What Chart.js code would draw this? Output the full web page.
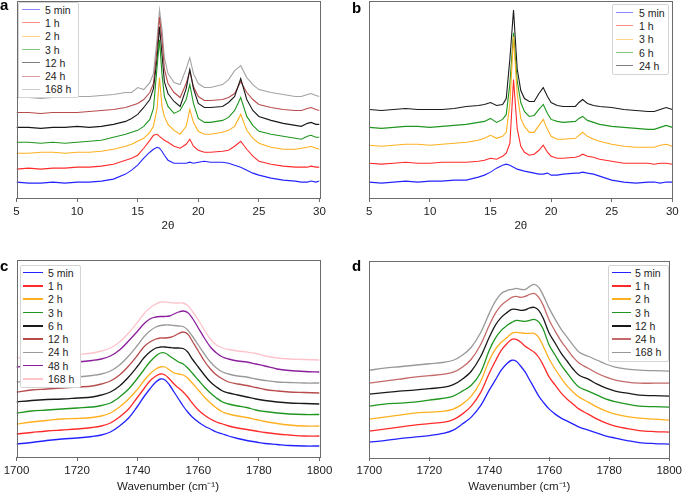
<!DOCTYPE html>
<html>
<head>
<meta charset="utf-8">
<script src="https://cdn.jsdelivr.net/npm/chart.js@4.4.0/dist/chart.umd.min.js"></script>
<style>
  html, body { margin: 0; padding: 0; background: #fff; }
  body { width: 685px; height: 494px; position: relative; overflow: hidden; font-family: 'Liberation Sans', Arial, sans-serif; }
  canvas { position: absolute; }
  .tag { position: absolute; font: bold 15px 'Liberation Sans', Arial, sans-serif; line-height: 1; color: #000; }
  .legend { position: absolute; background: #fff; border: 1px solid #d4d4d4; border-radius: 2px; box-sizing: border-box; }
  .legend-item { display: flex; align-items: center; height: 13.3px; font-size: 10.5px; color: #222; white-space: nowrap; }
  .legend-line { display: inline-block; flex: none; }
  #legA { left: 18px; top: 2px; width: 61px; height: 96px; padding-top: 0; }
  #legB { left: 612px; top: 4px; width: 57px; height: 71px; padding-top: 1px; }
  #legC { left: 20px; top: 265px; width: 61px; height: 123px; padding-top: 0; }
  #legD { left: 608px; top: 265px; width: 61px; height: 97px; padding-top: 0; }
</style>
</head>
<body>
<canvas id="chartA" width="340" height="240" style="left:0;top:0"></canvas>
<canvas id="chartB" width="345" height="240" style="left:340px;top:0"></canvas>
<canvas id="chartC" width="340" height="244" style="left:0;top:250px"></canvas>
<canvas id="chartD" width="345" height="244" style="left:340px;top:250px"></canvas>
<div class="tag" style="left:0;top:-3px">a</div>
<div class="tag" style="left:352px;top:0">b</div>
<div class="tag" style="left:0;top:258px">c</div>
<div class="tag" style="left:352px;top:258px">d</div>
<div class="legend" id="legA"></div>
<div class="legend" id="legB"></div>
<div class="legend" id="legC"></div>
<div class="legend" id="legD"></div>
<script>
// ---- panel a : XRD (2θ) ----
const thetaA = [5, 6, 7, 8, 9, 10, 11, 12, 13, 14, 14.5, 15, 15.5, 16, 16.3, 16.6, 16.8, 17, 17.2, 17.5, 18, 18.5, 19, 19.3, 19.6, 20, 20.5, 21, 22, 22.5, 23, 23.5, 24, 24.5, 25, 26, 27, 28, 28.5, 29, 29.3, 29.7, 30];
const a5min = [16, 15, 15, 16, 15, 16, 16, 17, 19, 24, 28, 33, 40, 46, 49, 51, 50, 47, 43, 38, 35, 35, 35, 36, 35, 36, 37, 36, 36, 35, 33, 31, 28, 25, 23, 20, 18, 17, 16, 16, 17, 16, 17];
const a1h = [29, 30, 29, 30, 30, 31, 31, 32, 34, 38, 40, 43, 50, 58, 63, 64, 62, 60, 58, 56, 52, 50, 54, 59, 52, 48, 46, 46, 47, 48, 52, 57, 49, 42, 37, 34, 32, 31, 31, 31, 32, 31, 31];
const a2h = [45, 45, 46, 46, 45, 46, 46, 47, 49, 52, 54, 57, 60, 66, 72, 90, 121, 92, 82, 74, 68, 64, 72, 89, 76, 67, 64, 64, 66, 68, 72, 84, 68, 60, 55, 51, 49, 49, 50, 51, 52, 50, 49];
const a3h = [56, 56, 55, 56, 55, 56, 57, 58, 61, 64, 66, 68, 72, 79, 90, 132, 159, 125, 102, 92, 85, 88, 99, 114, 95, 80, 76, 76, 78, 81, 88, 101, 82, 73, 67, 64, 62, 60, 59, 62, 63, 61, 61];
const a12h = [71, 71, 70, 71, 71, 72, 71, 72, 74, 77, 80, 84, 91, 99, 110, 140, 172, 145, 117, 105, 97, 92, 110, 129, 110, 95, 91, 91, 92, 96, 102, 120, 99, 88, 82, 78, 75, 73, 72, 75, 76, 74, 74];
const a24h = [86, 86, 85, 86, 86, 86, 87, 88, 89, 91, 93, 95, 99, 106, 115, 150, 182, 160, 130, 115, 106, 101, 115, 128, 112, 102, 98, 98, 99, 101, 105, 117, 106, 99, 94, 91, 89, 88, 88, 90, 91, 89, 88];
const a168h = [101, 101, 100, 101, 101, 102, 102, 103, 104, 106, 106, 111, 109, 116, 125, 160, 189, 170, 141, 125, 116, 114, 130, 141, 125, 115, 111, 111, 114, 119, 128, 133, 121, 114, 109, 106, 104, 102, 102, 104, 105, 103, 102];
const labelsA = ['5 min', '1 h', '2 h', '3 h', '12 h', '24 h', '168 h'];

// ---- panel b : XRD (2θ) ----
const thetaB = [5, 6, 7, 8, 9, 10, 11, 12, 13, 14, 14.5, 15, 15.5, 16, 16.3, 16.6, 16.9, 17.2, 17.5, 17.8, 18.2, 18.6, 19, 19.35, 19.7, 20, 20.5, 21, 22, 22.3, 22.6, 23, 23.5, 24, 25, 26, 27, 28, 28.5, 29, 29.5, 30];
const b5min = [16, 15, 16, 17, 16, 17, 17, 18, 18, 21, 23, 26, 30, 33, 34, 33, 31, 29, 28, 27, 26, 25, 24, 24, 25, 23, 23, 24, 25, 25, 26, 25, 24, 22, 18, 16, 15, 16, 16, 15, 16, 16];
const b1h = [35, 34, 35, 36, 35, 35, 36, 36, 36, 37, 38, 40, 39, 42, 45, 55, 119, 70, 52, 46, 43, 44, 48, 53, 46, 42, 40, 40, 41, 42, 44, 42, 41, 39, 37, 35, 35, 35, 34, 35, 35, 34];
const b3h = [53, 52, 53, 54, 54, 53, 54, 55, 56, 58, 60, 63, 60, 62, 66, 95, 162, 105, 80, 72, 66, 66, 73, 79, 69, 62, 59, 59, 60, 63, 66, 62, 59, 57, 54, 52, 51, 51, 51, 53, 54, 52];
const b6h = [71, 70, 71, 72, 72, 71, 72, 73, 74, 76, 77, 80, 76, 79, 84, 115, 166, 118, 96, 87, 82, 83, 89, 94, 85, 79, 77, 76, 77, 80, 82, 78, 76, 74, 72, 71, 70, 69, 69, 71, 73, 71];
const b24h = [89, 88, 89, 90, 89, 89, 89, 90, 92, 93, 94, 96, 93, 94, 100, 140, 189, 130, 108, 100, 97, 97, 105, 111, 102, 96, 93, 92, 92, 96, 99, 95, 93, 92, 91, 89, 88, 87, 87, 89, 91, 89];
const labelsB = ['5 min', '1 h', '3 h', '6 h', '24 h'];

// ---- panel c : IR, wavenumber ----
const waveC = [1700, 1705, 1710, 1715, 1720, 1725, 1728, 1731, 1734, 1737, 1740, 1742, 1744, 1746, 1747.5, 1749, 1750.5, 1752, 1753.5, 1755, 1756.5, 1758, 1760, 1762, 1764, 1766, 1768, 1770, 1773, 1776, 1779, 1782, 1786, 1790, 1795, 1800];
const c5min = [13, 14.5, 16.5, 18, 19, 20.5, 22, 25, 31, 39, 51, 60, 68, 75, 78, 77, 72, 65, 58, 51, 45, 40, 35, 31, 28, 25, 23, 21, 18.5, 16.5, 15, 13.5, 12.5, 11.5, 11, 11];
const c1h = [23, 24.5, 26, 27, 28, 29.5, 31, 34, 40, 48, 60, 68, 76, 81, 83, 82, 78, 73, 69, 65, 60, 54, 47, 42, 38, 35, 33, 31, 29, 27.5, 26, 24.5, 23, 22, 21, 21];
const c2h = [33, 35, 36.5, 38, 38.5, 39.5, 41, 44, 50, 58, 68, 76, 83, 88, 90, 90, 87, 84, 83, 82, 79, 74, 67, 60, 54, 49, 45, 43, 41, 39.5, 37.5, 35.5, 33.5, 32, 31, 31];
const c3h = [44, 46, 47, 48, 49, 50, 51.5, 54, 60, 68, 79, 87, 95, 101, 104, 104, 101, 98, 95, 93, 89, 84, 77, 70, 64, 59, 55, 53, 51, 49.5, 47, 45.5, 44, 43, 42.5, 42.5];
const c6h = [55, 56.5, 57.5, 58, 59, 60, 62, 65, 71, 80, 91, 99, 105, 109, 110, 110, 109.5, 109, 109, 108.5, 105, 98, 90, 82, 75, 70, 66, 64, 62, 60, 58, 56.5, 55, 54, 53.5, 53];
const c12h = [65, 67, 68, 69, 70, 71, 73, 76, 82, 91, 102, 110, 115, 118, 119, 119, 119.5, 121, 123.5, 125, 123, 116, 106, 96, 88, 82, 78, 75, 73, 71.5, 69.5, 67.5, 66, 65, 64.5, 64];
const c24h = [75, 77, 78, 79, 80, 81.5, 83, 86, 92, 101, 112, 120, 126, 130, 131.5, 132, 132, 131.5, 131, 130.5, 127, 121, 112, 103, 95, 89, 85, 83, 81, 80, 78, 76.5, 75, 74.5, 74, 74];
const c48h = [90, 92, 93, 94, 95, 96.5, 98, 101, 107, 116, 126, 133, 138, 140, 140.5, 140.5, 141, 143, 145, 146, 144.5, 139, 129, 119, 110, 104, 100, 98, 96, 95, 93, 91, 88, 86.5, 85.5, 85];
const c168h = [99, 100, 100.5, 101, 102.5, 104, 106, 109, 115, 124, 135, 143, 149, 153, 155, 155, 154.5, 154, 154, 154, 151.5, 146, 137, 127, 118, 112, 109, 107.5, 106, 105, 103.5, 101, 99, 98, 97.5, 97];
const labelsC = ['5 min', '1 h', '2 h', '3 h', '6 h', '12 h', '24 h', '48 h', '168 h'];

// ---- panel d : IR, wavenumber ----
const waveD = [1700, 1705, 1710, 1715, 1720, 1725, 1728, 1731, 1734, 1737, 1740, 1742, 1744, 1746, 1747.5, 1749, 1750.5, 1752, 1753.5, 1755, 1756.5, 1758, 1760, 1762, 1764, 1766, 1768, 1770, 1773, 1776, 1779, 1782, 1786, 1790, 1795, 1800];
const d5min = [15, 16.5, 18.5, 20, 21.5, 24, 27, 33, 40, 51, 67, 77, 87, 94, 97, 96, 91, 85, 77, 69, 61, 55, 48, 43, 39, 36, 33, 30, 27, 24, 21, 19, 16.5, 14.5, 13.5, 13];
const d1h = [26, 28, 30, 32, 33.5, 35, 37.5, 43, 51, 64, 84, 96, 107, 114, 118, 118, 115, 111, 108, 105, 100, 92, 80, 72, 64, 58, 53, 48, 43, 38, 34, 31, 28.5, 26.5, 25.5, 25];
const d2h = [38, 40, 42, 44, 45, 46, 48, 53, 61, 75, 97, 108, 115, 120, 124, 125, 124.5, 124, 124, 124, 120, 111, 98, 88, 79, 71, 65, 60, 55, 50, 46, 43, 40.5, 39, 38, 37];
const d3h = [51, 53, 54, 55, 57, 59, 61, 66, 72, 84, 107, 119, 127, 132, 135, 137, 136.5, 136, 137, 138, 135.5, 128, 112, 102, 92, 84, 76, 70, 66, 62, 58, 55.5, 53, 51, 50.5, 50];
const d12h = [63, 64.5, 66, 67, 68.5, 70, 72.5, 78, 86, 100, 120, 132, 140, 145, 148, 148, 147, 147.5, 149.5, 150, 147, 139, 124, 114, 104, 96, 88, 82, 78, 73, 69, 66, 64, 62, 61.5, 61];
const d24h = [74, 76, 78, 80, 81.5, 83, 85, 90, 98, 112, 132, 144, 152, 157, 160, 161, 160, 161, 163, 164, 160, 152, 137, 126, 116, 108, 100, 94, 89, 84, 80, 77, 75, 74, 74, 74];
const d168h = [87, 89, 90.5, 92, 93.5, 95, 97, 102, 110, 124, 144, 156, 164, 167, 168, 169, 168, 168, 171, 173, 170, 162, 149, 138, 128, 120, 112, 105, 101, 97, 93, 90, 88, 87, 86.5, 86];
const labelsD = ['5 min', '1 h', '2 h', '3 h', '12 h', '24 h', '168 h'];

// цвета линий
const COLORS = {
  blue: '#2323ff',
  red: '#ff2b2b',
  orange: '#ffb020',
  green: '#1f961f',
  black: '#1a1a1a',
  darkred: '#b84c4c',
  gray: '#a3a3a3',
  purple: '#8b1e9c',
  pink: '#ffc3cc',
  frame: '#6b6b6b',
};
const FONT = "'Liberation Sans', Arial, sans-serif";

// рамка вокруг области графика
const framePlugin = {
  id: 'frame',
  afterDraw(chart) {
    const { ctx, chartArea: a } = chart;
    ctx.save();
    ctx.strokeStyle = COLORS.frame;
    ctx.lineWidth = 1;
    ctx.strokeRect(Math.round(a.left) + 0.5, Math.round(a.top) + 0.5,
      Math.round(a.right - a.left), Math.round(a.bottom - a.top));
    ctx.restore();
  }
};

function makePanel(id, xs, series, colors, opt) {
  const datasets = series.map((ys, i) => ({
    data: xs.map((x, j) => ({ x, y: ys[j] })),
    borderColor: colors[i],
    borderWidth: opt.lineWidth,
    tension: opt.smooth ? 0.35 : 0,
    pointRadius: 0,
    fill: false,
  }));
  return new Chart(document.getElementById(id), {
    type: 'line',
    data: { datasets },
    plugins: [framePlugin],
    options: {
      responsive: false,
      animation: false,
      events: [],
      layout: { padding: opt.padding },
      plugins: { legend: { display: false }, tooltip: { enabled: false } },
      scales: {
        x: {
          type: 'linear',
          min: opt.xMin,
          max: opt.xMax,
          afterFit: (s) => { s.height = opt.axisHeight; },
          border: { display: false },
          grid: { drawOnChartArea: false, drawTicks: true, tickLength: 4, color: COLORS.frame },
          ticks: {
            stepSize: opt.step, color: '#222', padding: 3, maxRotation: 0, autoSkip: false,
            font: { family: FONT, size: 11.5 },
            callback: (v) => String(v),
          },
          title: {
            display: true, text: opt.title, color: '#222',
            font: { family: FONT, size: 11.5 },
            padding: { top: 0, bottom: opt.titlePad },
          },
        },
        y: { display: false, min: 0, max: opt.yMax },
      },
    },
  });
}

function buildLegend(id, labels, colors, line) {
  const box = document.getElementById(id);
  labels.forEach((label, i) => {
    const row = document.createElement('div');
    row.className = 'legend-item';
    const ln = document.createElement('span');
    ln.className = 'legend-line';
    ln.style.cssText = `width:${line.len}px;height:${line.w}px;background:${colors[i]};opacity:${line.op};margin-left:${line.ml}px;margin-right:${line.mr}px`;
    const txt = document.createElement('span');
    txt.textContent = label;
    row.appendChild(ln);
    row.appendChild(txt);
    box.appendChild(row);
  });
}

const colorsA = [COLORS.blue, COLORS.red, COLORS.orange, COLORS.green, COLORS.black, COLORS.darkred, COLORS.gray];
const colorsB = [COLORS.blue, COLORS.red, COLORS.orange, COLORS.green, COLORS.black];
const colorsC = [COLORS.blue, COLORS.red, COLORS.orange, COLORS.green, COLORS.black, COLORS.darkred, '#9a9a9a', COLORS.purple, COLORS.pink];
const colorsD = [COLORS.blue, COLORS.red, COLORS.orange, COLORS.green, COLORS.black, '#c46a6a', '#999999'];

makePanel('chartA', thetaA, [a5min, a1h, a2h, a3h, a12h, a24h, a168h], colorsA, {
  xMin: 5, xMax: 30, step: 5, yMax: 198, title: '2θ', titlePad: 7, axisHeight: 42,
  padding: { left: 16.5, right: 20.5, top: 1, bottom: 0 }, lineWidth: 1.1, smooth: false,
});
makePanel('chartB', thetaB, [b5min, b1h, b3h, b6h, b24h], colorsB, {
  xMin: 5, xMax: 30, step: 5, yMax: 198, title: '2θ', titlePad: 7, axisHeight: 42,
  padding: { left: 29.3, right: 12.7, top: 1, bottom: 0 }, lineWidth: 1.1, smooth: false,
});
makePanel('chartC', waveC, [c5min, c1h, c2h, c3h, c6h, c12h, c24h, c48h, c168h], colorsC, {
  xMin: 1700, xMax: 1800, step: 20, yMax: 197, title: 'Wavenumber (cm⁻¹)', titlePad: 0, axisHeight: 37,
  padding: { left: 16.5, right: 20.5, top: 10, bottom: 0 }, lineWidth: 1.3, smooth: true,
});
makePanel('chartD', waveD, [d5min, d1h, d2h, d3h, d12h, d24h, d168h], colorsD, {
  xMin: 1700, xMax: 1800, step: 20, yMax: 197, title: 'Wavenumber (cm⁻¹)', titlePad: 0, axisHeight: 37,
  padding: { left: 29.3, right: 12.7, top: 10.5, bottom: 0 }, lineWidth: 1.3, smooth: true,
});

buildLegend('legA', labelsA, colorsA, { len: 18, w: 1, op: 0.55, ml: 3, mr: 5 });
buildLegend('legB', labelsB, colorsB, { len: 17, w: 1, op: 0.55, ml: 3, mr: 6 });
buildLegend('legC', labelsC, colorsC, { len: 20, w: 1.5, op: 1, ml: 2, mr: 5 });
buildLegend('legD', labelsD, colorsD, { len: 19, w: 1.5, op: 1, ml: 3, mr: 4 });
</script>
</body>
</html>
